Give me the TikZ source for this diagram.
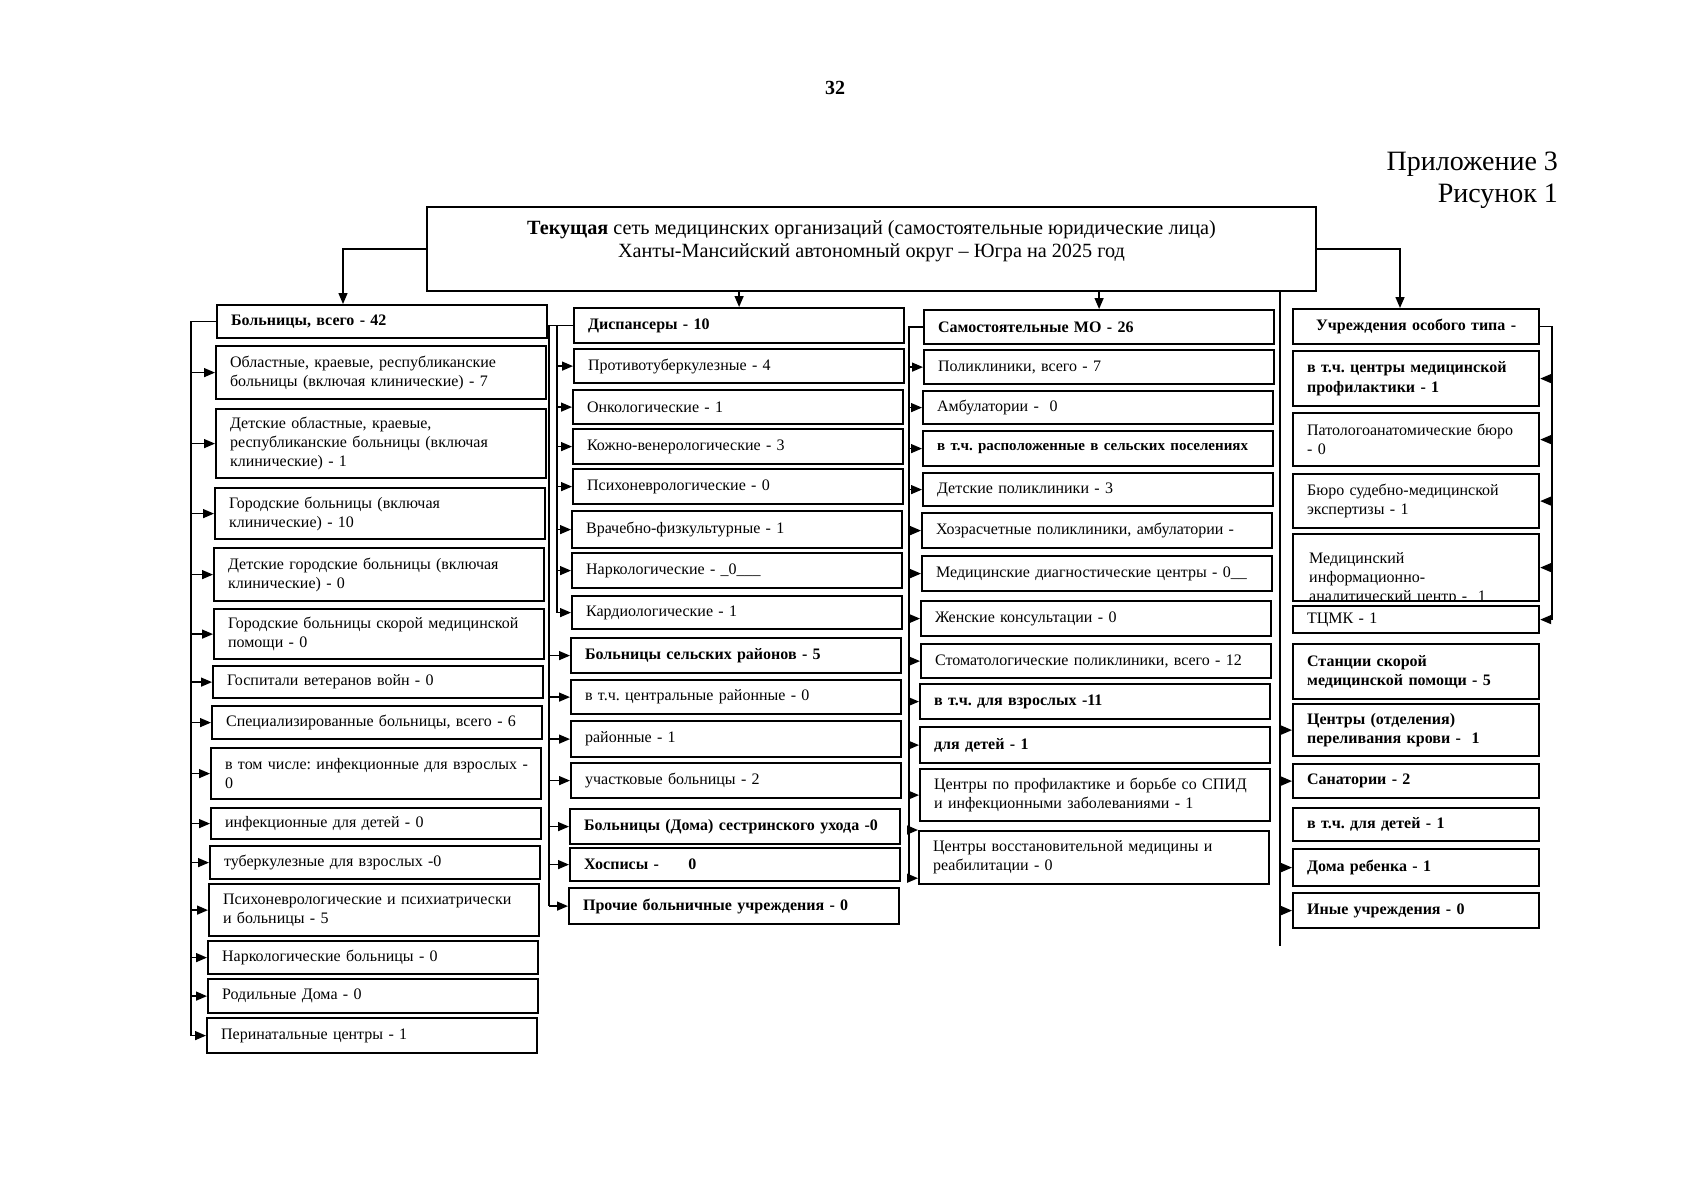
\documentclass[tikz,border=0pt]{standalone}
\usepackage{fontspec}
\setmainfont{Liberation Serif}
\frenchspacing
\usetikzlibrary{arrows.meta, calc}

\begin{document}
\begin{tikzpicture}[x=0.5pt, y=-0.5pt,
	box/.style={draw, line width=1.1pt, rectangle, anchor=north west, align=left, inner xsep=7pt, inner ysep=1pt, font=\fontsize{8}{9.6}\selectfont},
	arr/.style={-{Triangle[length=5.5pt,width=4.5pt]}, line width=0.7pt},
	link/.style={line width=0.7pt}]
	\useasboundingbox (0,0) rectangle (1686,1200);
	% header
	\node[font=\bfseries\fontsize{10}{12}\selectfont] (pnum) at (835,88) {32};
	\node[anchor=east, font=\fontsize{14}{16}\selectfont] (appx) at (1565,164) {Приложение 3};
	\node[anchor=east, font=\fontsize{14}{16}\selectfont] (fignum) at (1565,196) {Рисунок 1};
	\node[draw, line width=1.1pt, minimum width=889*0.5pt, minimum height=84*0.5pt, inner sep=0] (hd) at (871.5,249) {};
	\node[align=center, font=\fontsize{10.1}{11.4}\selectfont] (hdtxt) at (871.5,241) {\textbf{Текущая} сеть медицинских организаций (самостоятельные юридические лица)\\Ханты-Мансийский автономный округ – Югра на 2025 год};
	% column 1: hospitals
	\foreach \i/\x/\y/\h/\t in {1/216/304/33/{\textbf{Больницы, всего - 42}},2/215/345/53/{Областные, краевые, республиканские\\больницы (включая клинические) - 7},3/215/408/69/{Детские областные, краевые,\\республиканские больницы (включая\\клинические) - 1},4/214/487/51/{Городские больницы (включая\\клинические) - 10},5/213/547/53/{Детские городские больницы (включая\\клинические) - 0},6/213/608/50/{Городские больницы скорой медицинской\\помощи - 0},7/212/665/32/{Госпитали ветеранов войн - 0},8/211/705/33/{Специализированные больницы, всего - 6},9/210/747/51/{\mbox{в том числе: инфекционные для взрослых -}\\0},10/210/807/31/{инфекционные для детей - 0},11/209/845/33/{туберкулезные для взрослых -0},12/208/883/52/{Психоневрологические и психиатрически\\и больницы - 5},13/207/940/33/{Наркологические больницы - 0},14/207/978/34/{Родильные Дома - 0},15/206/1017/35/{Перинатальные центры - 1}}{\node[box, text width=151pt, minimum height=\h*0.5pt] (c1-\i) at (\x,\y) {\t};}
	% column 2: dispensaries
	\foreach \i/\x/\y/\h/\t in {1/573/307/35/{\textbf{Диспансеры - 10}},2/573/348/34/{Противотуберкулезные - 4},3/572/389/34/{Онкологические - 1},4/572/428/35/{Кожно-венерологические - 3},5/572/468/35/{Психоневрологические - 0},6/571/510/37/{Врачебно-физкультурные - 1},7/571/552/35/{Наркологические - \_0\_\_\_},8/571/595/33/{Кардиологические - 1},9/570/637/35/{\textbf{Больницы сельских районов - 5}},10/570/679/34/{в т.ч. центральные районные - 0},11/570/720/36/{районные - 1},12/570/762/35/{участковые больницы - 2},13/569/808/35/{\textbf{Больницы (Дома) сестринского ухода -0}},14/569/847/33/{\textbf{Хосписы - \hspace{12pt}0}},15/568/887/36/{\textbf{Прочие больничные учреждения - 0}}}{\node[box, text width=151pt, minimum height=\h*0.5pt] (c2-\i) at (\x,\y) {\t};}
	% column 3: independent organisations
	\foreach \i/\x/\y/\h/\t in {1/923/309/34/{\textbf{Самостоятельные МО - 26}},2/923/349/34/{Поликлиники, всего - 7},3/922/390/33/{Амбулатории - \ 0},4/922/430/35/{\fontsize{7.5}{9}\selectfont\textbf{в т.ч. расположенные в сельских поселениях}},5/922/472/33/{Детские поликлиники - 3},6/921/512/35/{Хозрасчетные поликлиники, амбулатории -},7/921/555/35/{Медицинские диагностические центры - 0\_\_},8/920/600/35/{Женские консультации - 0},9/920/643/34/{Стоматологические поликлиники, всего - 12},10/919/683/35/{\textbf{в т.ч. для взрослых -11}},11/919/726/36/{\textbf{для детей - 1}},12/919/768/52/{Центры по профилактике и борьбе со СПИД\\и инфекционными заболеваниями - 1},13/918/830/53/{Центры восстановительной медицины и\\реабилитации - 0}}{\node[box, text width=161pt, minimum height=\h*0.5pt] (c3-\i) at (\x,\y) {\t};}
	% column 4: special institutions
	\node[box, align=center, text width=109pt, minimum height=35*0.5pt] (c4-1) at (1292,308) {\textbf{Учреждения особого типа -}};
	\foreach \i/\y/\h/\t in {2/350/55/{\textbf{в т.ч. центры медицинской\\профилактики - 1}},3/412/53/{Патологоанатомические бюро\\- 0},4/473/54/{Бюро судебно-медицинской\\экспертизы - 1},6/605/27/{ТЦМК - 1},7/643/55/{\textbf{Станции скорой\\медицинской помощи - 5}},8/703/52/{\textbf{Центры (отделения)\\переливания крови - \ 1}},9/763/34/{\textbf{Санатории - 2}},10/807/33/{\textbf{в т.ч. для детей - 1}},11/848/37/{\textbf{Дома ребенка - 1}},12/892/35/{\textbf{Иные учреждения - 0}}}{\node[box, text width=109pt, minimum height=\h*0.5pt] (c4-\i) at (1292,\y) {\t};}
	\node[box, text width=109pt, minimum height=67*0.5pt, path picture={\node[anchor=north west, align=left, inner sep=0, font=\fontsize{8}{9.6}\selectfont] (c4-5txt) at ([xshift=7.5pt,yshift=-5pt]path picture bounding box.north west) {Медицинский\\информационно-\\аналитический центр - \ 1};}] (c4-5) at (1292,533) {};
	% links from the title box
	\coordinate (a1) at (343,0);
	\coordinate (a4) at (1400,0);
	\draw[arr] (hd.west) -| (a1 |- c1-1.north);
	\draw[arr] (c2-1.north |- hd.south) -- (c2-1.north);
	\draw[arr] (c3-1.north |- hd.south) -- (c3-1.north);
	\draw[arr] (hd.east) -| (a4 |- c4-1.north);
	% column 1 links
	\coordinate (l1) at (191,0);
	\draw[link] (c1-1.west) -- (l1 |- c1-1.west) -- (l1 |- c1-15.west);
	\foreach \i in {2,...,15}{\draw[arr] (l1 |- c1-\i.west) -- (c1-\i.west);}
	% column 2 links
	\coordinate (l2a) at (549,0);
	\coordinate (l2b) at (557,0);
	\draw[link] (c2-1.west) -- (l2a |- c2-1.west) -- (l2a |- c2-15.west);
	\draw[link] (l2b |- c2-1.west) -- (l2b |- c2-8.west);
	\foreach \i in {2,...,8}{\draw[arr] (l2b |- c2-\i.west) -- (c2-\i.west);}
	\foreach \i in {9,...,15}{\draw[arr] (l2a |- c2-\i.west) -- (c2-\i.west);}
	% column 3 links
	\coordinate (l3) at (909,0);
	\coordinate (c3end) at ([yshift=3.5pt]c3-13.south west);
	\draw[link] (c3-1.west) -- (l3 |- c3-1.west) -- (l3 |- c3end);
	\foreach \i in {2,...,12}{\draw[arr] (l3 |- c3-\i.west) -- (c3-\i.west);}
	\draw[arr] (l3 |- c3-13.north west) -- (c3-13.north west);
	\draw[arr] (l3 |- c3end) -- (c3end);
	% column 4 links
	\coordinate (r4) at (1552,0);
	\draw[link] (c4-1.east) -- (r4 |- c4-1.east) -- (r4 |- c4-6.east);
	\foreach \i in {2,...,6}{\draw[arr] (r4 |- c4-\i.east) -- (c4-\i.east);}
	\coordinate (l4end) at (1280,946);
	\draw[link] (hd.south -| l4end) -- (l4end);
	\foreach \i in {8,9,11,12}{\draw[arr] (l4end |- c4-\i.west) -- (c4-\i.west);}
\end{tikzpicture}
\end{document}
